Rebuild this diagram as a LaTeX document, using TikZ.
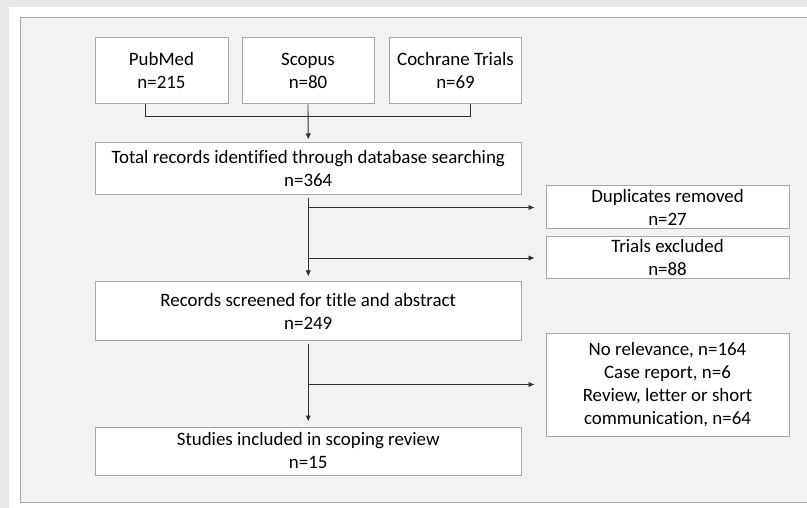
\documentclass[tikz,border=0pt]{standalone}
\usepackage{fontspec}
\setmainfont[Ligatures=NoCommon]{Carlito}
\usepackage{xcolor}
\usepackage{tikz}
\usetikzlibrary{positioning,calc,arrows.meta}
\definecolor{outergray}{HTML}{E6E7E9}
\definecolor{panelgray}{HTML}{F2F2F2}
\definecolor{edgegray}{HTML}{A6A6A6}
\definecolor{linegray}{HTML}{303030}

\begin{document}
\begin{tikzpicture}[x=1pt,y=-1pt,
    box/.style={draw=edgegray, fill=white, line width=1pt, align=center, inner sep=0pt,
        font=\fontsize{18.9}{23}\selectfont, text=black},
    smallbox/.style={box, minimum width=132pt, minimum height=66pt},
    widebox/.style={box, minimum width=426.5pt},
    sidebox/.style={box, minimum width=243pt},
    link/.style={draw=linegray, line width=0.9pt},
    arr/.style={link, -{Latex[length=6pt,width=5.5pt]}}]
    \useasboundingbox (0,0) rectangle (807,508);
    \fill[outergray] (0,0) rectangle (807,508);
    \fill[white] (8.5,7) rectangle (807,508);
    \draw[edgegray, fill=panelgray, line width=1pt] (808,18) -- (20,18) -- (20,502.5) -- (808,502.5);

    \node[smallbox, minimum width=133pt] (pubmed) at (161.5,71) {PubMed\\n=215};
    \node[smallbox] (scopus) at (308,71) {Scopus\\n=80};
    \node[smallbox] (cochrane) at (455.5,71) {Cochrane Trials\\n=69};
    \node[widebox, minimum height=52pt] (total) at (308.25,169) {Total records identified through database searching\\n=364};
    \node[sidebox, minimum height=43pt] (dupl) at (667.5,207.5) {Duplicates removed\\n=27};
    \node[sidebox, minimum height=42pt] (trials) at (667.5,258) {Trials excluded\\n=88};
    \node[widebox, minimum height=58pt] (records) at (308.25,311) {Records screened for title and abstract\\n=249};
    \node[sidebox, minimum height=103pt] (excl) at (667.5,384.5) {No relevance, n=164\\Case report, n=6\\Review, letter or short\\communication, n=64};
    \node[widebox, minimum height=48pt] (studies) at (308.25,451) {Studies included in scoping review\\n=15};

    % Merge of the three searches
    \draw[link] ([xshift=-16pt]pubmed.south) -- ++(0,12) -| ([xshift=15pt]cochrane.south);
    \draw[arr, shorten >=3pt] (scopus.south) -- (total.north);

    % Main flow
    \draw[arr, shorten <=3pt, shorten >=5pt] (total.south) -- (records.north);
    \draw[arr, shorten <=3pt, shorten >=5pt] (records.south) -- (studies.north);

    % Exclusions
    \draw[arr, shorten >=11pt] (total.south |- dupl.west) -- (dupl.west);
    \draw[arr, shorten >=11pt] (total.south |- trials.west) -- (trials.west);
    \draw[arr, shorten >=11pt] (records.south |- excl.west) -- (excl.west);
\end{tikzpicture}
\end{document}
